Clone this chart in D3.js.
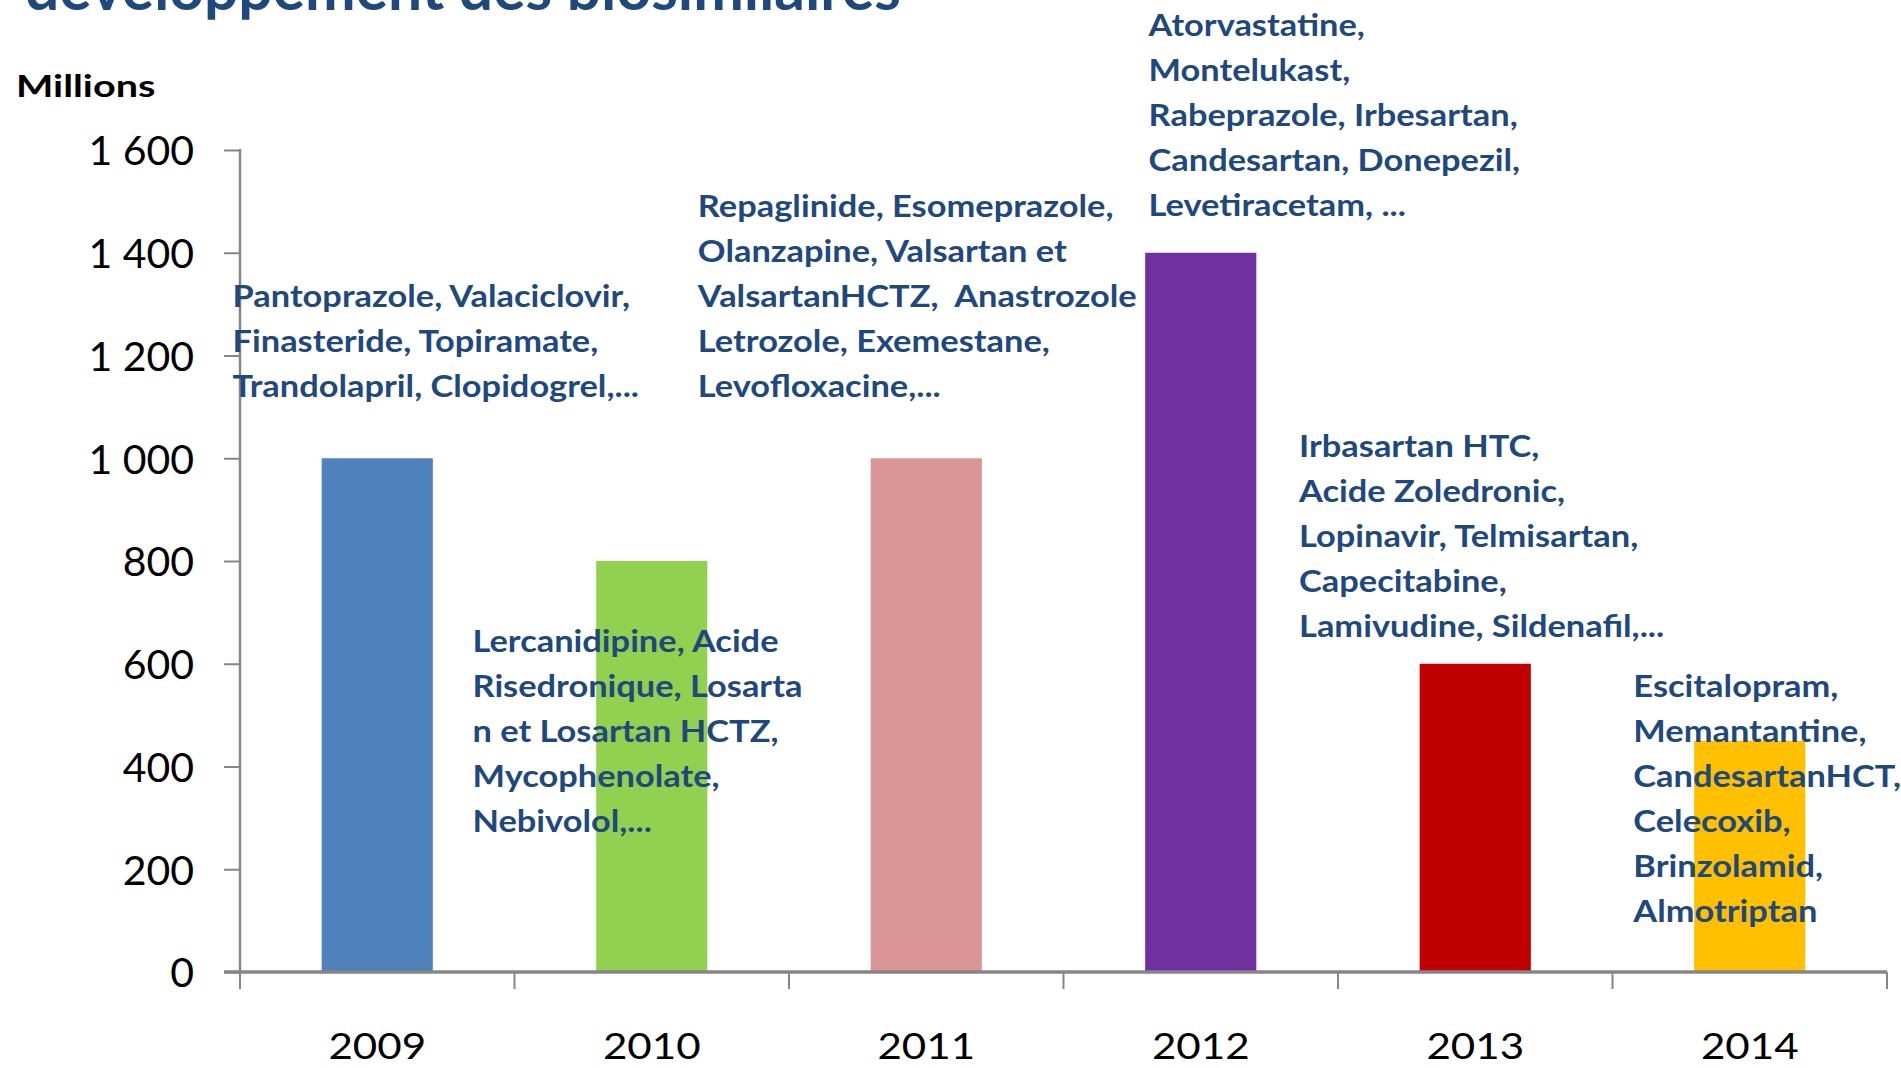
<!DOCTYPE html>
<html>
<head>
<meta charset="utf-8">
<script src="https://cdn.jsdelivr.net/npm/d3@7"></script>
<style>
	body { margin: 0; background: #fff; }
	svg { display: block; }
	text { font-family: "Lato", "DejaVu Sans", sans-serif; }
</style>
</head>
<body>
<svg id="chart" width="1901" height="1068"></svg>
<script>

var years = ["2009", "2010", "2011", "2012", "2013", "2014"];
var values = [1000, 800, 1000, 1400, 600, 450];
var barColors = ["#4F81BD", "#92D050", "#D99694", "#7030A0", "#C00000", "#FFC000"];
var yTicks = [0, 200, 400, 600, 800, 1000, 1200, 1400, 1600];

var annotations = [
	["Pantoprazole, Valaciclovir,", "Finasteride, Topiramate,", "Trandolapril, Clopidogrel,..."],
	["Lercanidipine, Acide", "Risedronique, Losarta", "n et Losartan HCTZ,", "Mycophenolate,", "Nebivolol,..."],
	["Repaglinide, Esomeprazole,", "Olanzapine, Valsartan et", "ValsartanHCTZ,  Anastrozole", "Letrozole, Exemestane,", "Levofloxacine,..."],
	["Atorvastatine,", "Montelukast,", "Rabeprazole, Irbesartan,", "Candesartan, Donepezil,", "Levetiracetam, ..."],
	["Irbasartan HTC,", "Acide Zoledronic,", "Lopinavir, Telmisartan,", "Capecitabine,", "Lamivudine, Sildenafil,..."],
	["Escitalopram,", "Memantantine,", "CandesartanHCT,", "Celecoxib,", "Brinzolamid,", "Almotriptan"]
];

// where each text box sits: offset in bands from the year's band start, value of first line
var annotationAnchors = [[-0.027, 1316], [-0.153, 644], [-0.332, 1491], [0.31, 1843], [-0.142, 1024], [0.076, 557]];

var svg = d3.select("#chart");
var plotLeft = 240, plotRight = 1887, plotTop = 150, plotBottom = 972;
var stretch = 1.11;

var x = d3.scaleBand().domain(years).range([plotLeft, plotRight]).padding(0);
var y = d3.scaleLinear().domain([0, 1600]).range([plotBottom, plotTop]);
var fmt = d3.formatLocale({decimal: ",", thousands: " ", grouping: [3], currency: ["", " €"]}).format(",d");

// title, mostly cut off at the top
svg.append("text")
	.attr("transform", "translate(25,10) scale(1.0,1)")
	.attr("font-size", 60.5)
	.attr("font-weight", "bold")
	.attr("fill", "#1F497D")
	.text("développement des biosimilaires");

svg.append("text")
	.attr("transform", "translate(16,97) scale(1.32,1)")
	.attr("font-size", 30)
	.attr("font-weight", "bold")
	.attr("fill", "#000")
	.text("Millions");

// bars
var barW = x.bandwidth() * 0.405;
svg.append("g")
	.selectAll("rect")
	.data(years)
	.enter()
	.append("rect")
	.attr("x", function(d) { return x(d) + (x.bandwidth() - barW) / 2; })
	.attr("y", function(d, i) { return y(values[i]); })
	.attr("width", barW)
	.attr("height", function(d, i) { return plotBottom - y(values[i]); })
	.attr("fill", function(d, i) { return barColors[i]; });

// y axis
var yAxis = svg.append("g")
	.attr("transform", "translate(" + plotLeft + ",0)")
	.call(d3.axisLeft(y).tickValues(yTicks).tickSize(16).tickPadding(30).tickFormat(fmt));
yAxis.select(".domain").remove();
yAxis.selectAll(".tick line").attr("stroke", "#868686").attr("stroke-width", 2);
yAxis.selectAll(".tick text")
	.attr("font-family", "Lato")
	.attr("font-size", 41)
	.attr("fill", "#000")
	.attr("dy", "0.36em");
svg.append("line")
	.attr("x1", plotLeft).attr("x2", plotLeft)
	.attr("y1", plotTop - 1).attr("y2", plotBottom)
	.attr("stroke", "#868686").attr("stroke-width", 2.5);

// x axis
svg.append("line")
	.attr("x1", plotLeft - 16).attr("x2", plotRight)
	.attr("y1", plotBottom).attr("y2", plotBottom)
	.attr("stroke", "#868686").attr("stroke-width", 3.5);
var bounds = years.map(function(d) { return x(d); }).concat([plotRight]);
svg.append("g")
	.selectAll("line")
	.data(bounds)
	.enter()
	.append("line")
	.attr("x1", function(d) { return d; }).attr("x2", function(d) { return d; })
	.attr("y1", plotBottom).attr("y2", plotBottom + 17)
	.attr("stroke", "#868686").attr("stroke-width", 2);

svg.append("g")
	.selectAll("text")
	.data(years)
	.enter()
	.append("text")
	.attr("transform", function(d) { return "translate(" + (x(d) + x.bandwidth() / 2) + ",1059) scale(1.17,1)"; })
	.attr("text-anchor", "middle")
	.attr("font-size", 36)
	.attr("fill", "#000")
	.text(function(d) { return d; });

// drug name annotations
var lineGap = 45;
annotations.forEach(function(lines, i) {
	var ax = x(years[i]) + annotationAnchors[i][0] * x.step();
	var ay = y(annotationAnchors[i][1]) + 11;
	svg.append("g")
		.selectAll("text")
		.data(lines)
		.enter()
		.append("text")
		.attr("transform", function(d, j) { return "translate(" + ax + "," + (ay + j * lineGap) + ") scale(" + stretch + ",1)"; })
		.attr("font-size", 31)
		.attr("font-weight", "bold")
		.attr("fill", "#1F497D")
		.style("white-space", "pre")
		.text(function(d) { return d; });
});

</script>
</body>
</html>
